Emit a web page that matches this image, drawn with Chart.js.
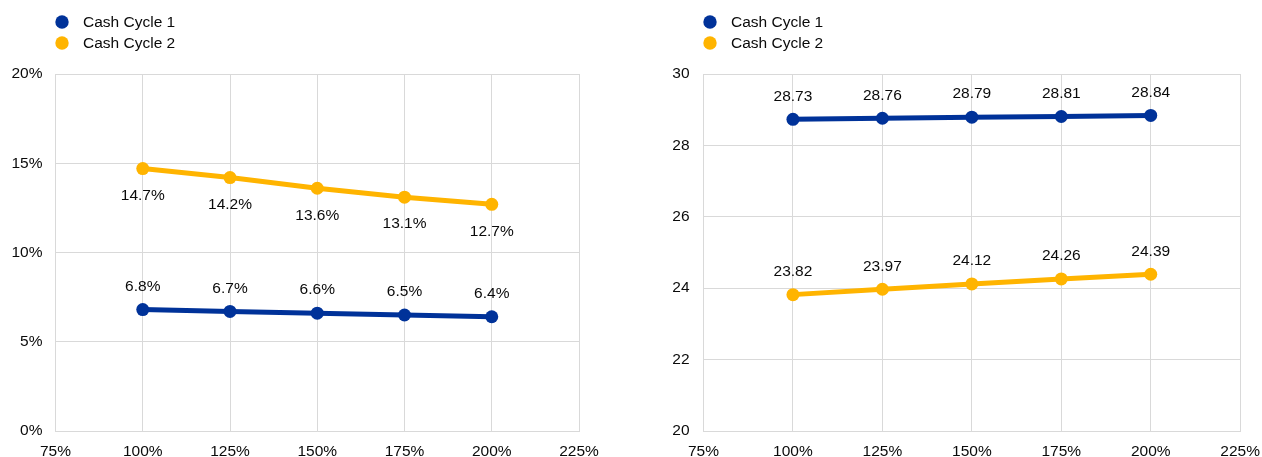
<!DOCTYPE html>
<html><head><meta charset="utf-8">
<script src="https://cdn.jsdelivr.net/npm/chart.js@4.4.1/dist/chart.umd.min.js"></script>
<style>
html,body{margin:0;padding:0;background:#fff;overflow:hidden;}
.wrap{position:absolute;top:0;height:457px;}
#w1{left:0;width:631px;} #w2{left:631px;width:640px;}
</style></head><body>
<div class="wrap" id="w1"><canvas id="c1"></canvas></div>
<div class="wrap" id="w2"><canvas id="c2"></canvas></div>
<script>
const xLevels = [100, 125, 150, 175, 200];
const seriesNames = ['Cash Cycle 1', 'Cash Cycle 2'];
const leftCycle1 = [6.8, 6.7, 6.6, 6.5, 6.4];
const leftCycle2 = [14.7, 14.2, 13.6, 13.1, 12.7];
const rightCycle1 = [28.73, 28.76, 28.79, 28.81, 28.84];
const rightCycle2 = [23.82, 23.97, 24.12, 24.26, 24.39];
const xTicks = [75, 100, 125, 150, 175, 200, 225];
const leftYTicks = [0, 5, 10, 15, 20];
const rightYTicks = [20, 22, 24, 26, 28, 30];

const BLUE = '#003299';
const YELLOW = '#ffb400';
const FONT = "'Liberation Sans', Arial, sans-serif";
const FSIZE = 15.5;
const TXT = '#0a0a0a';
const GRID = '#d9d9d9';

const pointLabels = {
  id: 'pointLabels',
  afterDatasetsDraw(chart, args, opts) {
    const ctx = chart.ctx;
    ctx.save();
    ctx.font = FSIZE + 'px ' + FONT;
    ctx.fillStyle = TXT;
    ctx.textAlign = 'center';
    ctx.textBaseline = 'middle';
    chart.data.datasets.forEach((ds, i) => {
      const meta = chart.getDatasetMeta(i);
      const off = opts.offsets[i];
      meta.data.forEach((pt, j) => {
        ctx.fillText(opts.format(ds.data[j].y), pt.x, pt.y + off);
      });
    });
    ctx.restore();
  }
};

const customLegend = {
  id: 'customLegend',
  afterDraw(chart, args, opts) {
    const ctx = chart.ctx;
    ctx.save();
    ctx.font = FSIZE + 'px ' + FONT;
    ctx.textBaseline = 'middle';
    ctx.textAlign = 'left';
    chart.data.datasets.forEach((ds, i) => {
      const y = opts.y + i * opts.gap;
      ctx.fillStyle = ds.borderColor;
      ctx.beginPath();
      ctx.arc(opts.x, y, 6.7, 0, Math.PI * 2);
      ctx.fill();
      ctx.fillStyle = TXT;
      ctx.fillText(ds.label, opts.x + 21, y + 1);
    });
    ctx.restore();
  }
};

function pts(vals) { return vals.map((v, i) => ({ x: xLevels[i], y: v })); }

function makeChart(id, c1, c2, yTicks, fmtTick, fmtLabel, offsets, yWidth, padRight, yPad, legendX) {
  const ds = (label, vals, color) => ({
    label, data: pts(vals), borderColor: color, backgroundColor: color,
    borderWidth: 5, pointRadius: 6.5, pointHoverRadius: 6.5, pointBorderWidth: 0,
    pointBackgroundColor: color, tension: 0, fill: false
  });
  return new Chart(document.getElementById(id), {
    type: 'line',
    data: { datasets: [ds(seriesNames[0], c1, BLUE), ds(seriesNames[1], c2, YELLOW)] },
    options: {
      responsive: true, maintainAspectRatio: false, animation: false,
      events: [],
      layout: { padding: { top: 74, right: padRight, bottom: 0, left: 0 } },
      plugins: {
        legend: { display: false }, tooltip: { enabled: false },
        pointLabels: { offsets, format: fmtLabel },
        customLegend: { x: legendX, y: 22, gap: 21 }
      },
      scales: {
        x: {
          type: 'linear', min: xTicks[0], max: xTicks[xTicks.length - 1],
          afterBuildTicks: s => { s.ticks = xTicks.map(v => ({ value: v })); },
          afterFit: s => { s.height = 26; },
          grid: { color: GRID, drawTicks: false, lineWidth: 1 },
          border: { color: GRID, width: 1 },
          ticks: { color: TXT, font: { family: FONT, size: FSIZE }, padding: 11, maxRotation: 0,
                   callback: v => v + '%' }
        },
        y: {
          min: yTicks[0], max: yTicks[yTicks.length - 1],
          afterBuildTicks: s => { s.ticks = yTicks.map(v => ({ value: v })); },
          afterFit: s => { s.width = yWidth; },
          grid: { color: GRID, drawTicks: false, lineWidth: 1 },
          border: { color: GRID, width: 1 },
          ticks: { color: TXT, font: { family: FONT, size: FSIZE }, padding: yPad, callback: fmtTick }
        }
      }
    },
    plugins: [pointLabels, customLegend]
  });
}

makeChart('c1', leftCycle1, leftCycle2, leftYTicks, v => v + '%', v => v.toFixed(1) + '%',
  [-23, 27], 55.5, 52, 13, 62);
makeChart('c2', rightCycle1, rightCycle2, rightYTicks, v => String(v), v => v.toFixed(2),
  [-23, -23], 72.5, 21, 14, 79);
</script>
</body></html>
